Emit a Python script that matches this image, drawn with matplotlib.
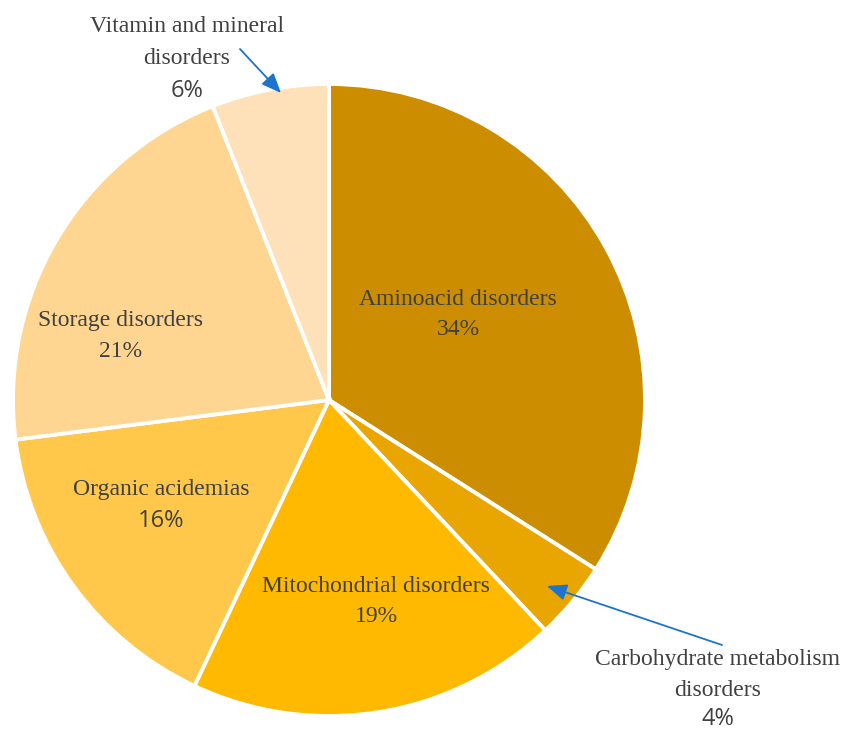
import matplotlib
matplotlib.use("Agg")
import matplotlib.pyplot as plt

categories = ["Aminoacid disorders", "Carbohydrate metabolism disorders", "Mitochondrial disorders",
              "Organic acidemias", "Storage disorders", "Vitamin and mineral disorders"]
values = [34, 4, 19, 16, 21, 6]
colors = ["#CC8E00", "#E9A500", "#FFB900", "#FFC84B", "#FFD592", "#FFE1B9"]

fig = plt.figure(figsize=(8.45, 7.31), dpi=100)
ax = fig.add_axes([0, 0, 1, 1])

H = 731
cx, cy, r = 329, H - 400, 316
ax.pie(values, colors=colors, startangle=90, counterclock=False, center=(cx, cy), radius=r,
       wedgeprops=dict(edgecolor="white", linewidth=2.8), frame=True)
ax.set_xlim(0, 845)
ax.set_ylim(0, 731)
ax.set_aspect("equal")
ax.axis("off")

tc = "#404040"
serif = ["Liberation Serif", "DejaVu Serif"]
sans = ["Open Sans", "DejaVu Sans"]
fs = 17

def txt(x, y, s, fam=serif):
    ax.text(x, H - y, s, ha="center", va="center", fontsize=fs, color=tc, family=fam)

# Aminoacid
txt(458, 300, "Aminoacid disorders")
txt(458, 330, "34%")
# Carbohydrate
txt(718, 660, "Carbohydrate metabolism")
txt(718, 690, "disorders")
txt(718, 719, "4%", sans)
# Mitochondrial
txt(376, 587, "Mitochondrial disorders")
txt(376, 616, "19%")
# Organic
txt(161, 490, "Organic acidemias")
txt(161, 521, "16%", sans)
# Storage
txt(121, 321, "Storage disorders")
txt(121, 352, "21%")
# Vitamin
txt(187, 27, "Vitamin and mineral")
txt(187, 58, "disorders")
txt(187, 91, "6%", sans)

arrow_c = "#1C74CC"
ax.annotate("", xy=(547, H - 586), xytext=(722, H - 645),
            arrowprops=dict(arrowstyle="-|>,head_length=1.2,head_width=0.5", color=arrow_c, lw=1.3,
                            shrinkA=0, shrinkB=0))
ax.annotate("", xy=(281, H - 93), xytext=(240, H - 49),
            arrowprops=dict(arrowstyle="-|>,head_length=1.2,head_width=0.5", color=arrow_c, lw=1.3,
                            shrinkA=0, shrinkB=0))

fig.savefig("out.png", dpi=100)
